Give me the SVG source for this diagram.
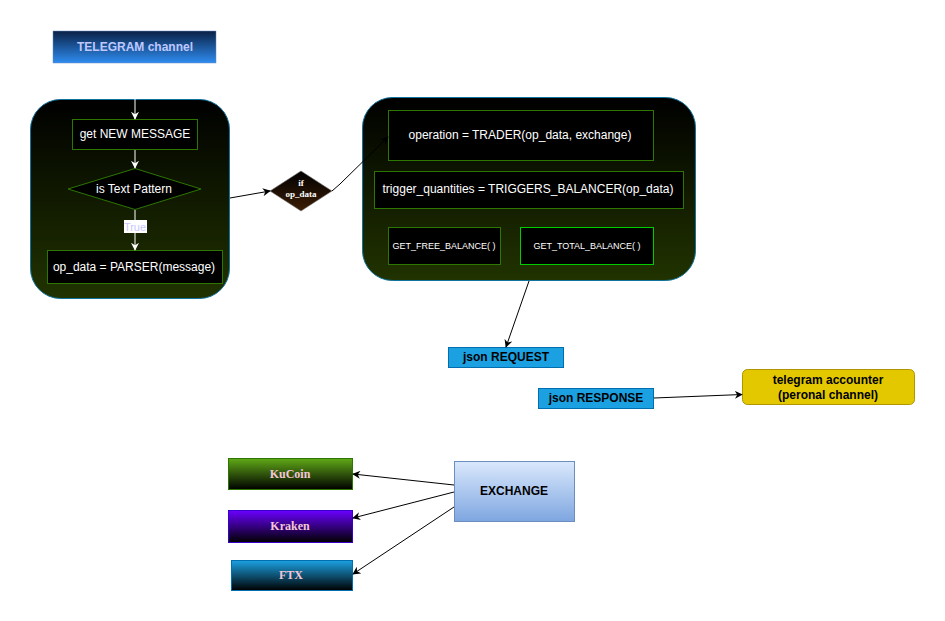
<svg xmlns="http://www.w3.org/2000/svg" width="945" height="621" viewBox="0 0 945 621">
<style>
.w{font-family:"Liberation Sans",Arial,sans-serif;fill:#ffffff;text-anchor:middle;dominant-baseline:central}
.b{font-family:"Liberation Sans",Arial,sans-serif;font-weight:bold;fill:#000;text-anchor:middle;dominant-baseline:central;font-size:12px}
.s{font-family:"Liberation Serif","Times New Roman",serif;font-weight:bold;fill:#f4c6d8;text-anchor:middle;dominant-baseline:central;font-size:12px}
.box{fill:#000;stroke:#2d7600;stroke-width:1}
.cont{stroke:#10739e;stroke-width:1}
.lk{fill:none;stroke:#000;stroke-width:1}
.lw{fill:none;stroke:#ffffff;stroke-width:1}
</style>
<defs>
<linearGradient id="gCont" x1="0" y1="0" x2="0" y2="1"><stop offset="0" stop-color="#000000"/><stop offset="1" stop-color="#213300"/></linearGradient>
<linearGradient id="gTel" x1="0" y1="0" x2="0" y2="1"><stop offset="0" stop-color="#0a2146"/><stop offset="1" stop-color="#2e8cf0"/></linearGradient>
<linearGradient id="gIf" x1="0" y1="0" x2="0" y2="1"><stop offset="0" stop-color="#000000"/><stop offset="1" stop-color="#3d1e05"/></linearGradient>
<linearGradient id="gKu" x1="0" y1="0" x2="0" y2="1"><stop offset="0" stop-color="#60a917"/><stop offset="1" stop-color="#000000"/></linearGradient>
<linearGradient id="gKr" x1="0" y1="0" x2="0" y2="1"><stop offset="0" stop-color="#6a00ff"/><stop offset="1" stop-color="#000000"/></linearGradient>
<linearGradient id="gFt" x1="0" y1="0" x2="0" y2="1"><stop offset="0" stop-color="#1ba1e2"/><stop offset="1" stop-color="#000000"/></linearGradient>
<linearGradient id="gEx" x1="0" y1="0" x2="0" y2="1"><stop offset="0" stop-color="#dae8fc"/><stop offset="1" stop-color="#7ea6e0"/></linearGradient>
<marker id="ak" viewBox="0 0 10 10" refX="9" refY="5" markerWidth="8" markerHeight="8" orient="auto" markerUnits="userSpaceOnUse"><path d="M0,0 L10,5 L0,10 L3,5 Z" fill="#000"/></marker>
<marker id="aw" viewBox="0 0 10 10" refX="9" refY="5" markerWidth="8" markerHeight="8" orient="auto" markerUnits="userSpaceOnUse"><path d="M0,0 L10,5 L0,10 L3,5 Z" fill="#fff"/></marker>
</defs>

<g id="telegram-channel">
<rect x="53" y="31" width="163" height="32" fill="url(#gTel)" stroke="#6c8ebf" stroke-width="0.5"/>
<text x="135" y="47" class="w" style="font-weight:bold;font-size:12px;fill:#bfc8ff">TELEGRAM channel</text>
</g>

<g id="left-container">
<rect x="30.5" y="99.5" width="199" height="199" rx="30" fill="url(#gCont)" class="cont"/>
</g>
<g id="get-new-message">
<rect x="72.5" y="119.5" width="125" height="30" class="box"/>
<text x="135" y="134" class="w" font-size="12">get NEW MESSAGE</text>
</g>
<g id="is-text-pattern">
<polygon points="135,168.5 201,189 135,209.5 68,189" class="box"/>
<text x="134" y="189" class="w" font-size="12">is Text Pattern</text>
</g>
<g id="parser">
<rect x="47.5" y="250.5" width="175" height="33" class="box"/>
<text x="134" y="267" class="w" font-size="12">op_data = PARSER(message)</text>
</g>

<g id="if-op-data">
<polygon points="301,171 332,191 301,211 270,191" fill="url(#gIf)" stroke="#777" stroke-width="0.6"/>
<text x="301" y="183" class="w" style="font-family:'Liberation Serif',serif;font-weight:bold;font-size:9px">if</text>
<text x="301" y="194" class="w" style="font-family:'Liberation Serif',serif;font-weight:bold;font-size:9px">op_data</text>
</g>

<g id="right-container">
<rect x="362.5" y="97.5" width="333" height="183" rx="30" fill="url(#gCont)" class="cont"/>
</g>
<g id="trader">
<rect x="388.5" y="110.5" width="265" height="50" class="box"/>
<text x="520" y="135" class="w" font-size="12">operation = TRADER(op_data, exchange)</text>
</g>
<g id="triggers-balancer">
<rect x="374.5" y="171.5" width="309" height="37" class="box"/>
<text x="528" y="189" class="w" font-size="12">trigger_quantities = TRIGGERS_BALANCER(op_data)</text>
</g>
<g id="get-free-balance">
<rect x="388.5" y="227.5" width="112" height="37" class="box"/>
<text x="444" y="246" class="w" font-size="9">GET_FREE_BALANCE( )</text>
</g>
<g id="get-total-balance">
<rect x="520.5" y="227.5" width="133" height="37" fill="#000" stroke="#00cc00"/>
<text x="587" y="246" class="w" font-size="9">GET_TOTAL_BALANCE( )</text>
</g>

<g id="json-request">
<rect x="448.5" y="347.5" width="115" height="20" fill="#1ba1e2" stroke="#006eaf"/>
<text x="506" y="357" class="b">json REQUEST</text>
</g>
<g id="json-response">
<rect x="538.5" y="388.5" width="115" height="20" fill="#1ba1e2" stroke="#006eaf"/>
<text x="596" y="398" class="b">json RESPONSE</text>
</g>
<g id="telegram-accounter">
<rect x="742.5" y="369.5" width="172" height="35" rx="5" fill="#e3c800" stroke="#b09500"/>
<text x="828" y="380" class="b">telegram accounter</text>
<text x="828" y="395" class="b">(peronal channel)</text>
</g>

<g id="kucoin">
<rect x="228.5" y="458.5" width="124" height="31" fill="url(#gKu)" stroke="#2d7600"/>
<text x="290" y="474" class="s">KuCoin</text>
</g>
<g id="kraken">
<rect x="228.5" y="510.5" width="124" height="32" fill="url(#gKr)" stroke="#3700cc"/>
<text x="290" y="526" class="s">Kraken</text>
</g>
<g id="ftx">
<rect x="231.5" y="560.5" width="121" height="30" fill="url(#gFt)" stroke="#006eaf"/>
<text x="291" y="575" class="s">FTX</text>
</g>
<g id="exchange">
<rect x="454.5" y="461.5" width="120" height="60" fill="url(#gEx)" stroke="#6c8ebf"/>
<text x="514" y="491" class="b">EXCHANGE</text>
</g>

<g id="connectors">
<line x1="135" y1="99" x2="135" y2="119" class="lw" marker-end="url(#aw)"/>
<line x1="135" y1="150" x2="135" y2="168" class="lw" marker-end="url(#aw)"/>
<line x1="135" y1="210" x2="135" y2="250" class="lw" marker-end="url(#aw)"/>
<rect x="124" y="220" width="23" height="13" fill="#fff"/>
<text x="135" y="226.5" class="w" style="font-size:11px;fill:#c8c8ff">True</text>
<line x1="230" y1="198" x2="270" y2="191" class="lk" marker-end="url(#ak)"/>
<polyline points="332,191 340,184 388,137" class="lk" marker-end="url(#ak)"/>
<line x1="529" y1="281" x2="506" y2="347" class="lk" marker-end="url(#ak)"/>
<line x1="654" y1="398" x2="742" y2="394.5" class="lk" marker-end="url(#ak)"/>
<line x1="454" y1="485" x2="353" y2="474" class="lk" marker-end="url(#ak)"/>
<line x1="454" y1="492" x2="353" y2="518" class="lk" marker-end="url(#ak)"/>
<line x1="454" y1="507" x2="353" y2="574" class="lk" marker-end="url(#ak)"/>
</g>
</svg>
